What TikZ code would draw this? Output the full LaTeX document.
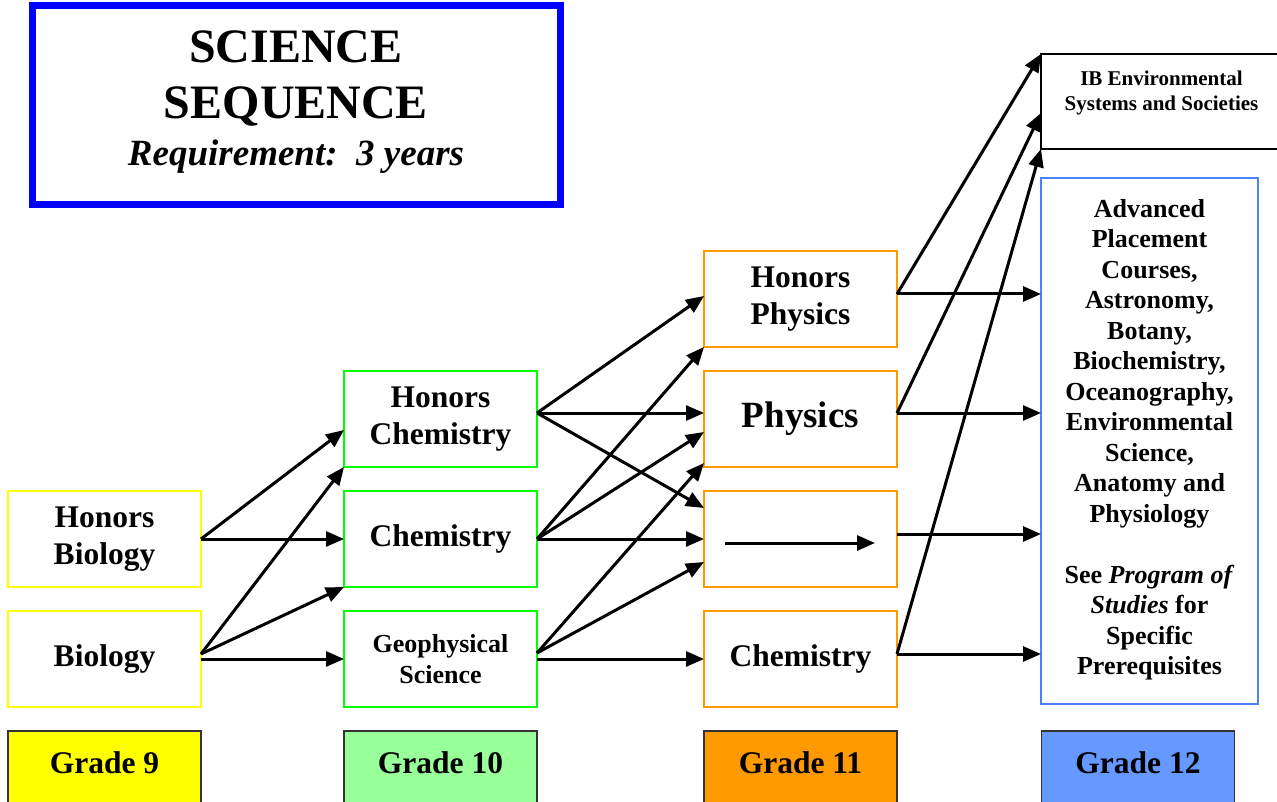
\documentclass[tikz,border=0pt]{standalone}
\usepackage{fontspec}
\setmainfont{Liberation Serif}
\usetikzlibrary{arrows.meta}
\definecolor{ylw}{RGB}{255,255,0}
\definecolor{grn}{RGB}{0,255,0}
\definecolor{org}{RGB}{255,153,0}
\definecolor{apblue}{RGB}{77,128,255}
\definecolor{gtenfill}{RGB}{153,255,153}
\definecolor{gtwelvefill}{RGB}{102,153,255}
\definecolor{titleblue}{RGB}{0,0,255}
\begin{document}
\begin{tikzpicture}[x=1pt,y=-1pt,
  box/.style={draw, line width=2pt, outer sep=0pt, inner sep=0pt, minimum width=193pt, minimum height=96pt, align=center, font=\bfseries\fontsize{31.5}{37}\selectfont},
  gnine/.style={box, draw=ylw},
  gten/.style={box, draw=grn},
  geleven/.style={box, draw=org},
  gradebox/.style={draw=black!80, line width=1.5pt, outer sep=0pt, inner sep=0pt, minimum width=193pt, minimum height=90pt, anchor=north, text height=23pt, text depth=29pt, font=\bfseries\fontsize{31.5}{36}\selectfont},
  arr/.style={line width=3pt, -{Triangle[length=18pt,width=15pt]}}
]
\useasboundingbox (0,0) rectangle (1277,802);

% title
\node[draw=titleblue, line width=7pt, minimum width=528pt, minimum height=199pt, align=center, outer sep=0pt, inner sep=0pt, font=\bfseries\fontsize{48}{56}\selectfont] (title) at (296,105.5)
 {SCIENCE\\SEQUENCE\\[-9pt]{\fontsize{37}{46}\selectfont\itshape Requirement:\ \ 3 years}\\[-42pt]};

% grade 9
\node[gnine] (hbio) at (104.5,539) {Honors\\Biology};
\node[gnine] (bio) at (104.5,659) {Biology};
% grade 10
\node[gten] (hchem) at (440.5,419) {Honors\\Chemistry};
\node[gten] (chem) at (440.5,539) {Chemistry};
\node[gten, font=\bfseries\fontsize{26}{31}\selectfont] (geo) at (440.5,659) {Geophysical\\Science};
% grade 11
\node[geleven] (hphys) at (800.5,299) {Honors\\Physics};
\node[geleven, font=\bfseries\fontsize{37}{44}\selectfont] (phys) at (800.5,419) {Physics};
\node[geleven] (emp) at (800.5,539) {};
\node[geleven] (chemb) at (800.5,659) {Chemistry};
% grade 12
\node[draw=black, line width=2pt, outer sep=0pt, inner sep=0pt, minimum width=249pt, minimum height=95pt] (ib) at (1165.5,101.5) {};
\node[anchor=north, align=center, inner sep=0pt, font=\bfseries\fontsize{21}{25}\selectfont] (ibt) at ([xshift=-4pt,yshift=-17pt]ib.north) {IB Environmental\\Systems and Societies};
\node[draw=apblue, line width=2pt, outer sep=0pt, inner sep=0pt, minimum width=217pt, minimum height=526pt, align=center, font=\bfseries\fontsize{26}{30.5}\selectfont] (ap) at (1149.5,441)
 {Advanced\\Placement\\Courses,\\Astronomy,\\Botany,\\Biochemistry,\\Oceanography,\\Environmental\\Science,\\Anatomy and\\Physiology\\[30.5pt]See \textit{Program of}\\\textit{Studies} for\\Specific\\Prerequisites\\[-22.5pt]};

% grade labels
\node[gradebox, fill=ylw] (g9) at (104.5,731) {Grade 9};
\node[gradebox, fill=gtenfill] (g10) at (440.5,731) {Grade 10};
\node[gradebox, fill=org] (g11) at (800.5,731) {Grade 11};
\node[gradebox, fill=gtwelvefill] (g12) at (1138,731) {Grade 12};

% grade 9 -> 10
\draw[arr] (hbio.east) -- ([yshift=-11pt]hchem.west);
\draw[arr] (hbio.east) -- (chem.west);
\draw[arr] ([yshift=5pt]bio.east) -- (hchem.south west);
\draw[arr] ([yshift=5pt]bio.east) -- (chem.south west);
\draw[arr] (bio.east) -- (geo.west);

% grade 10 -> 11
\draw[arr] ([yshift=6pt]hchem.east) -- ([yshift=3pt]hphys.west);
\draw[arr] ([yshift=6pt]hchem.east) -- ([yshift=6pt]phys.west);
\draw[arr] ([yshift=6pt]hchem.east) -- ([yshift=31pt]emp.west);
\draw[arr] (chem.east) -- (hphys.south west);
\draw[arr] (chem.east) -- ([yshift=-13pt]phys.west);
\draw[arr] (chem.east) -- (emp.west);
\draw[arr] ([yshift=6pt]geo.east) -- ([yshift=4pt]phys.south west);
\draw[arr] ([yshift=6pt]geo.east) -- ([yshift=-23pt]emp.west);
\draw[arr] (geo.east) -- (chemb.west);

% arrow inside empty box
\draw[arr] ([xshift=21pt,yshift=-4pt]emp.west) -- ([xshift=-22pt,yshift=-4pt]emp.east);

% grade 11 -> 12
\draw[arr] ([yshift=5pt]hphys.east) -- (ib.north west);
\draw[arr] ([yshift=5pt]hphys.east) -- ([yshift=147pt]ap.west);
\draw[arr] ([yshift=6pt]phys.east) -- ([yshift=-11.5pt]ib.west);
\draw[arr] ([yshift=6pt]phys.east) -- ([yshift=28pt]ap.west);
\draw[arr] ([yshift=5pt]emp.east) -- ([yshift=-93pt]ap.west);
\draw[arr] ([yshift=5pt]chemb.east) -- (ib.south west);
\draw[arr] ([yshift=5pt]chemb.east) -- ([yshift=-213pt]ap.west);
\end{tikzpicture}
\end{document}
